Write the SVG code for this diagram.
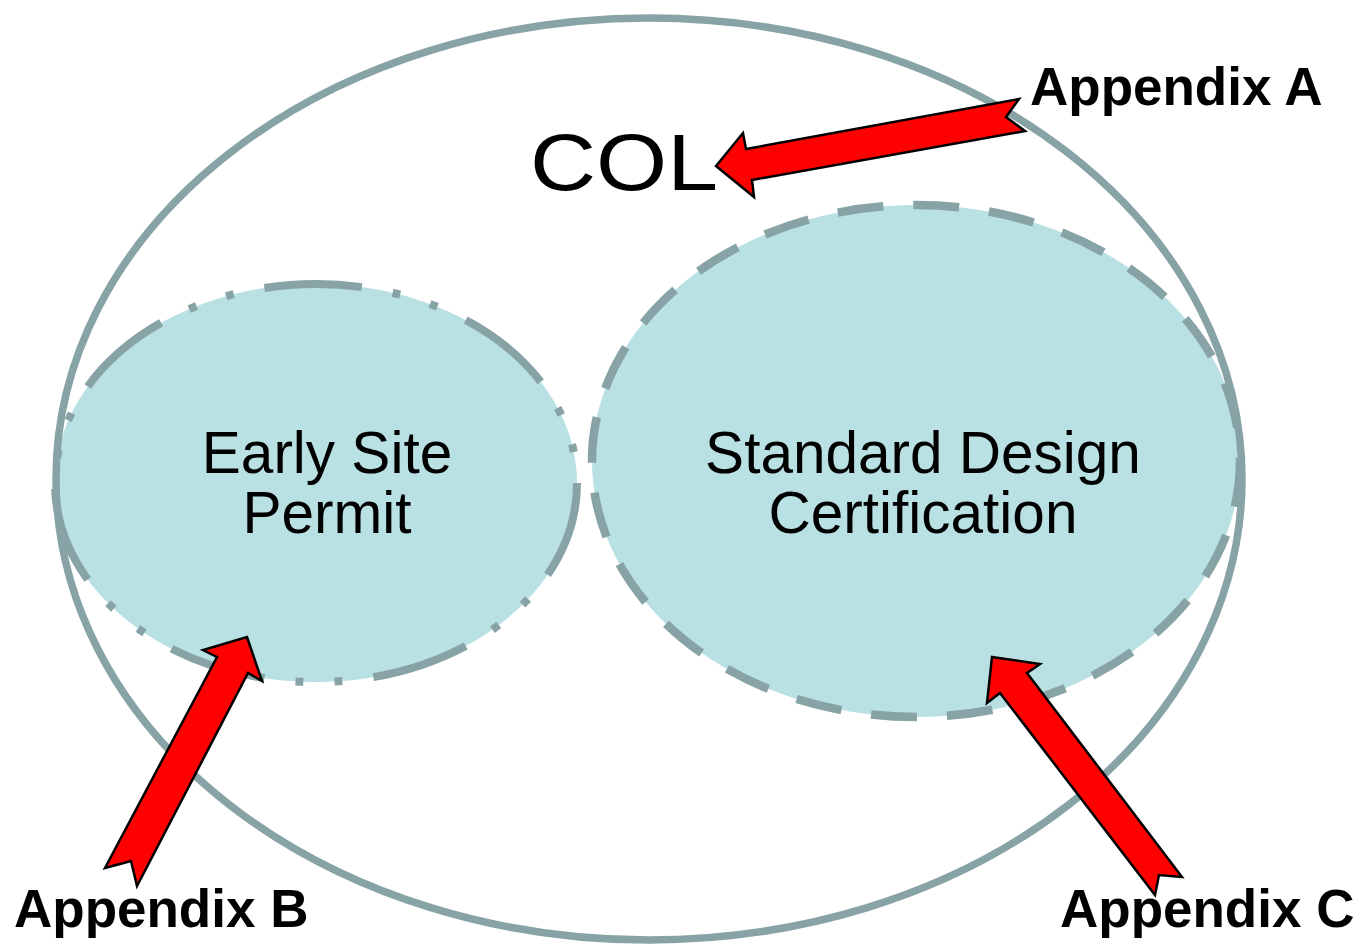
<svg xmlns="http://www.w3.org/2000/svg" width="1360" height="948" viewBox="0 0 1360 948">
<style>
.fillc{fill:#b9e0e3;stroke:none}
.outer{fill:none;stroke:#88a3a5;stroke-width:7.5}
.esp{fill:none;stroke:#88a3a5;stroke-width:8;stroke-dasharray:100 32 8 32 8 32}
.sdc{fill:none;stroke:#88a3a5;stroke-width:8.5;stroke-dasharray:46 30}
.lbl{font-family:"Liberation Sans",Arial,sans-serif;fill:#000}
.app{font-family:"Liberation Sans",Arial,sans-serif;font-weight:bold;font-size:53px;fill:#000}
.arrow{fill:#ff0000;stroke:#000;stroke-width:2.5;stroke-linejoin:miter}
</style>
<rect width="1360" height="948" fill="#ffffff"/>
<g id="esp-fill"><ellipse class="fillc" cx="316" cy="483" rx="261" ry="199"/></g>
<g id="sdc-fill"><ellipse class="fillc" cx="916" cy="461" rx="324" ry="256"/></g>
<g id="col">
<ellipse class="outer" cx="649" cy="479" rx="593" ry="461"/>
<text class="lbl" x="530" y="190" font-size="80" textLength="188" lengthAdjust="spacingAndGlyphs">COL</text>
</g>
<g id="esp">
<ellipse class="esp" cx="316" cy="483" rx="261" ry="199" pathLength="1484"/>
<text class="lbl" font-size="58.5" text-anchor="middle"><tspan x="327" y="473">Early Site</tspan><tspan x="327" y="533">Permit</tspan></text>
</g>
<g id="sdc">
<ellipse class="sdc" cx="916" cy="461" rx="324" ry="256"/>
<text class="lbl" font-size="58.5" text-anchor="middle"><tspan x="923" y="473">Standard Design</tspan><tspan x="923" y="533">Certification</tspan></text>
</g>
<g id="connectors">
<polygon class="arrow" points="716,166 743,133 746,149 1019,99 1006,117 1025,131 752,180 754,197"/>
<polygon class="arrow" points="247,637 262,681 248,673 137,886 131,861 105,868 217,657 203,650"/>
<polygon class="arrow" points="992,657 1040,664 1027,673 1182,877 1159,875 1155,895 1000,693 987,703"/>
</g>
<g id="labels">
<text class="app" x="1030" y="105">Appendix A</text>
<text class="app" x="14" y="927">Appendix B</text>
<text class="app" x="1060" y="927">Appendix C</text>
</g>
</svg>
